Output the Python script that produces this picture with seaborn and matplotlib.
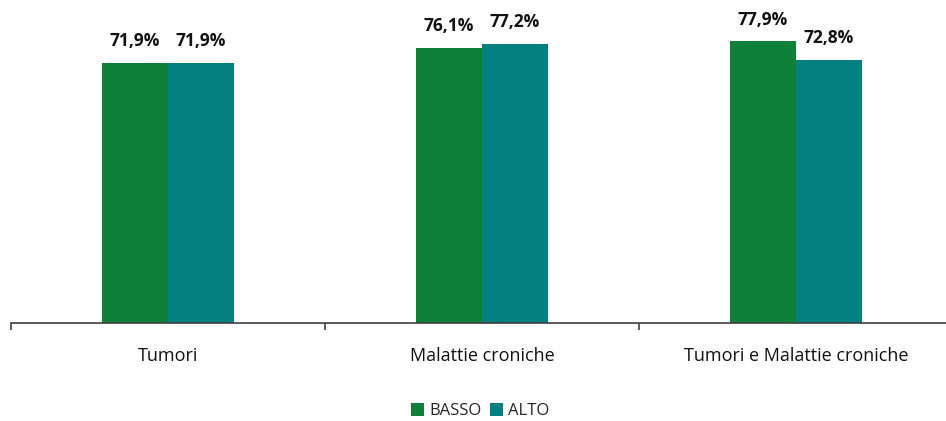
import numpy as np
import pandas as pd
import matplotlib
matplotlib.use("Agg")
import matplotlib.pyplot as plt
import seaborn as sns

# dati
categorie = ["Tumori", "Malattie croniche", "Tumori e Malattie croniche"]
basso = [71.9, 76.1, 77.9]
alto = [71.9, 77.2, 72.8]
gruppi = ["BASSO", "ALTO"]
colori = ["#0f8038", "#058080"]

df = pd.DataFrame({
    "categoria": categorie * 2,
    "valore": basso + alto,
    "gruppo": [gruppi[0]] * 3 + [gruppi[1]] * 3,
})

sns.set_style("white")
plt.rcParams["font.family"] = ["Open Sans", "DejaVu Sans"]

fig = plt.figure(figsize=(9.46, 4.21), dpi=100)
# l'asse prosegue oltre il bordo destro, come nell'originale
ax = fig.add_axes([11 / 946, (421 - 323) / 421, 942 / 946, 323 / 421])

sns.barplot(data=df, x="categoria", y="valore", hue="gruppo",
            palette=colori, width=0.42, saturation=1, linewidth=0, ax=ax)

# etichette sopra le barre
for cont in ax.containers:
    ax.bar_label(cont, labels=[f"{v:.1f}%".replace(".", ",") for v in cont.datavalues],
                 padding=9, fontsize=12.5, fontweight="bold", color="#111111")

ax.set_ylim(0, 89.3)
ax.set_xlim(-0.5, 2.5)
ax.set_xlabel("")
ax.set_ylabel("")
ax.set_yticks([])

for s in ["top", "right", "left"]:
    ax.spines[s].set_visible(False)
ax.spines["bottom"].set_color("#404040")
ax.spines["bottom"].set_linewidth(1.2)

# tacche tra le categorie
ax.set_xticks([-0.5, 0.5, 1.5, 2.5], minor=True)
ax.tick_params(axis="x", which="minor", bottom=True, length=5, width=1.2,
               color="#404040", direction="out")
ax.tick_params(axis="x", which="major", length=0, labelsize=13, pad=17, labelcolor="#111111")

handles, labels = ax.get_legend_handles_labels()
ax.legend(handles, labels, loc="center", bbox_to_anchor=(0.4979, -0.273),
          ncol=2, frameon=False, fontsize=12, handlelength=0.8, handleheight=0.8,
          handletextpad=0.3, columnspacing=0.5)

fig.savefig("out.png", dpi=100)
